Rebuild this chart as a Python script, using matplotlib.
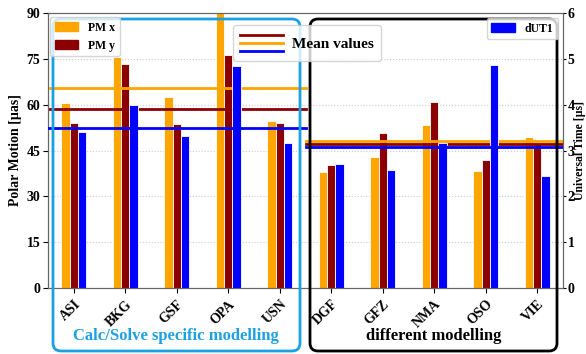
import matplotlib
matplotlib.use('Agg')
import matplotlib.pyplot as plt
import numpy as np
from matplotlib.patches import FancyBboxPatch, Patch
from matplotlib.lines import Line2D
from matplotlib.legend_handler import HandlerBase

plt.rcParams['font.family'] = 'Liberation Serif'
plt.rcParams['font.weight'] = 'bold'
plt.rcParams['axes.labelweight'] = 'bold'

centers = ['ASI', 'BKG', 'GSF', 'OPA', 'USN', 'DGF', 'GFZ', 'NMA', 'OSO', 'VIE']
pm_x = [60.4, 75.7, 62.4, 92.0, 54.8, 38.0, 42.8, 53.3, 38.4, 49.3]
pm_y = [53.9, 73.2, 53.6, 76.2, 54.0, 40.2, 50.6, 60.9, 41.9, 47.5]
dut1 = [3.40, 3.99, 3.31, 4.84, 3.17, 2.71, 2.57, 3.17, 4.86, 2.44]

# mean values per group (Calc/Solve specific, different modelling)
mean_pm_x = [65.3, 48.1]
mean_pm_y = [58.6, 47.0]
mean_dut1 = [3.50, 3.07]

c_x, c_y, c_ut = '#FFA500', '#8B0000', '#0000FF'
cyan = '#1BA1E2'

fig = plt.figure(figsize=(5.86, 3.54), dpi=100)
ax = fig.add_axes([48/586, 1-288/354, 515/586, 275/354])
ax2 = ax.twinx()

x = np.arange(len(centers))
w = 0.165
ax.bar(x - w, pm_x, w, color=c_x, edgecolor='white', lw=0.6, zorder=2)
ax.bar(x, pm_y, w, color=c_y, edgecolor='white', lw=0.6, zorder=2)
ax2.bar(x + w, dut1, w, color=c_ut, edgecolor='white', lw=0.6, zorder=2)

groups = [(-0.5, 4.5), (4.5, 9.5)]
for i, (a, b) in enumerate(groups):
    ax.plot([a, b], [mean_pm_y[i]] * 2, color=c_y, lw=2, zorder=3)
    ax.plot([a, b], [mean_pm_x[i]] * 2, color=c_x, lw=2, zorder=3)
    ax2.plot([a, b], [mean_dut1[i]] * 2, color=c_ut, lw=2, zorder=3)

ax.set_xlim(-0.5, 9.5)
ax.set_ylim(0, 90)
ax2.set_ylim(0, 6)
ax.set_yticks(np.arange(0, 91, 15))
ax2.set_yticks(np.arange(0, 7, 1))
ax.set_xticks(x)
ax.set_xticklabels(centers, rotation=45, ha='right', rotation_mode='anchor',
                   fontsize=10, fontweight='bold')
for t in ax.get_yticklabels() + ax2.get_yticklabels():
    t.set_fontweight('bold')
ax.tick_params(axis='y', labelsize=10, pad=2)
ax2.tick_params(axis='y', labelsize=10, pad=1, length=2.5)
ax.grid(axis='y', color='0.8', ls=':', lw=0.8, zorder=0)
ax.set_axisbelow(True)
for s in list(ax.spines.values()) + list(ax2.spines.values()):
    s.set_color('0.4')
ax.set_ylabel('Polar Motion [µas]', fontsize=10, fontweight='bold', labelpad=3)
ax2.set_ylabel('Universal Time [µs]', fontsize=8.5, fontweight='bold', va='center')
ax2.yaxis.set_label_coords((580.5 - 48) / 515, 0.5)

# group boxes
fig.add_artist(FancyBboxPatch((0.53, 0.03), 2.47, 3.32, boxstyle='round,pad=0,rounding_size=0.08',
                              transform=fig.dpi_scale_trans, fill=False, ec=cyan, lw=2, zorder=2))
fig.add_artist(FancyBboxPatch((3.10, 0.03), 2.47, 3.32, boxstyle='round,pad=0,rounding_size=0.08',
                              transform=fig.dpi_scale_trans, fill=False, ec='black', lw=2, zorder=2))
fig.text(176/586, 1-336/354, 'Calc/Solve specific modelling', color=cyan, fontsize=12,
         fontweight='bold', ha='center', va='center')
fig.text(434/586, 1-336/354, 'different modelling', color='black', fontsize=12,
         fontweight='bold', ha='center', va='center')


class StackHandler(HandlerBase):
    def create_artists(self, legend, orig_handle, xdescent, ydescent, width, height, fontsize, trans):
        arts = []
        gap = 0.4 * fontsize * 1.3
        mid = height / 2 - ydescent
        for i, ln in enumerate(orig_handle):
            yy = mid + (1 - i) * gap
            arts.append(Line2D([-xdescent, width - xdescent], [yy, yy],
                               color=ln.get_color(), lw=2, transform=trans))
        return arts


h_mean = (Line2D([], [], color=c_y), Line2D([], [], color=c_x), Line2D([], [], color=c_ut))
leg1 = fig.legend([Patch(color=c_x), Patch(color=c_y)], ['PM x', 'PM y'],
                  loc='upper left', bbox_to_anchor=(50/586, 1-17/354),
                  borderaxespad=0, prop={'weight': 'bold', 'size': 8.5})
leg2 = fig.legend([h_mean], ['Mean values'], handler_map={tuple: StackHandler()},
                  loc='upper left', bbox_to_anchor=(233/586, 1-25/354),
                  prop={'weight': 'bold', 'size': 11}, borderaxespad=0,
                  handlelength=2.8, handleheight=1.9, borderpad=0.45, handletextpad=0.6)
leg3 = fig.legend([Patch(color=c_ut)], ['dUT1'], loc='upper right',
                  bbox_to_anchor=(558/586, 1-18/354), borderaxespad=0,
                  prop={'weight': 'bold', 'size': 8.5})
for lg in (leg1, leg2, leg3):
    lg.set_zorder(5)

fig.savefig('out.png', dpi=100)
